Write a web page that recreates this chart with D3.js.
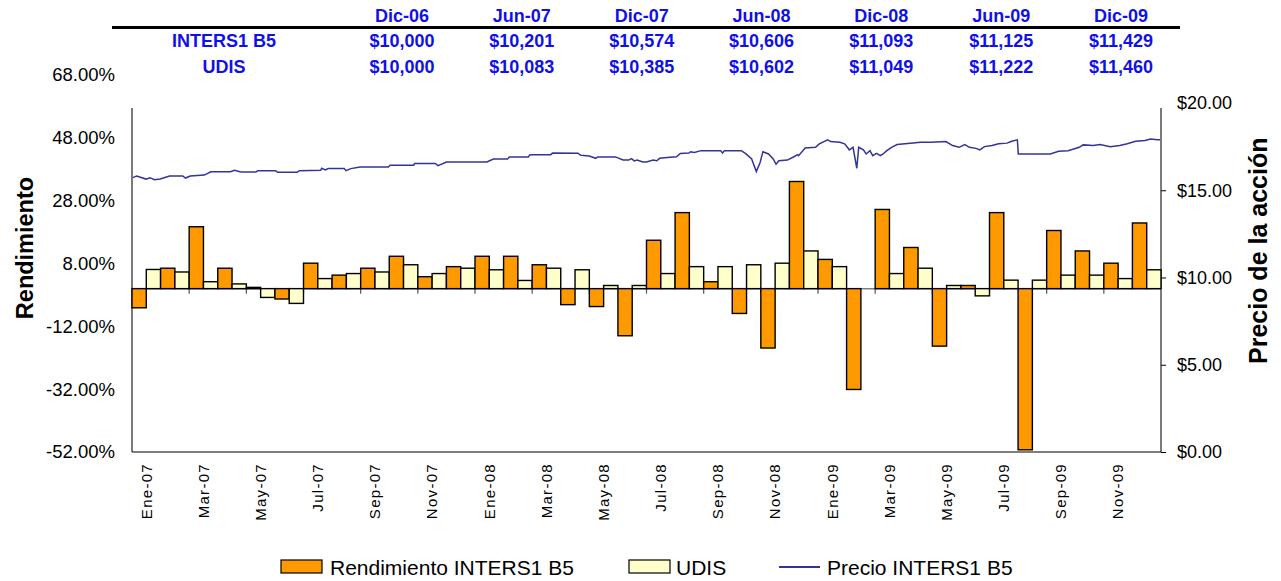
<!DOCTYPE html>
<html>
<head>
<meta charset="utf-8">
<script src="https://cdn.jsdelivr.net/npm/d3@7"></script>
<style>
    body { margin: 0; background: #fff; }
    svg { display: block; font-family: "Liberation Sans", Arial, sans-serif; }
</style>
</head>
<body>
<svg id="chart" width="1281" height="581"></svg>
<script>
// table on top
var tableDates = ["Dic-06", "Jun-07", "Dic-07", "Jun-08", "Dic-08", "Jun-09", "Dic-09"];
var tableInters = [10000, 10201, 10574, 10606, 11093, 11125, 11429];
var tableUdis = [10000, 10083, 10385, 10602, 11049, 11222, 11460];

// monthly returns (%)
var months = ["Ene-07","Feb-07","Mar-07","Abr-07","May-07","Jun-07","Jul-07","Ago-07","Sep-07","Oct-07","Nov-07","Dic-07",
    "Ene-08","Feb-08","Mar-08","Abr-08","May-08","Jun-08","Jul-08","Ago-08","Sep-08","Oct-08","Nov-08","Dic-08",
    "Ene-09","Feb-09","Mar-09","Abr-09","May-09","Jun-09","Jul-09","Ago-09","Sep-09","Oct-09","Nov-09","Dic-09"];
var rendInters = [-6.1, 6.5, 19.7, 6.5, 0.4, -3.3, 8.1, 4.3, 6.5, 10.3, 3.8, 7.0,
    10.3, 10.3, 7.6, -5.1, -5.7, -15.0, 15.4, 24.2, 2.2, -7.9, -18.9, 34.1,
    9.3, -32.1, 25.2, 13.1, -18.3, 1.0, 24.2, -51.3, 18.5, 12.0, 8.1, 20.9];
var rendUdis = [6.1, 5.3, 2.2, 1.5, -2.8, -4.7, 3.2, 4.8, 5.3, 7.6, 4.8, 6.5,
    6.0, 2.6, 6.5, 6.0, 1.0, 1.0, 4.8, 7.0, 7.0, 7.6, 8.1, 12.0,
    7.0, null, 4.8, 6.5, 1.0, -2.3, 2.7, 2.7, 4.3, 4.3, 3.2, 6.0];

var leftTicks = [-52, -32, -12, 8, 28, 48, 68];
var rightTicks = [0, 5, 10, 15, 20];

// share price
var precio = [
    ["2007-01-02", 15.72], ["2007-01-06", 15.82], ["2007-01-16", 15.64], ["2007-01-20", 15.72],
    ["2007-01-25", 15.60], ["2007-01-31", 15.64], ["2007-02-10", 15.82], ["2007-02-24", 15.82],
    ["2007-02-27", 15.70], ["2007-03-04", 15.82], ["2007-03-19", 15.87], ["2007-03-26", 16.06],
    ["2007-04-16", 16.06], ["2007-04-20", 16.14], ["2007-04-27", 16.05], ["2007-05-13", 16.05],
    ["2007-05-15", 16.12], ["2007-06-03", 16.12], ["2007-06-05", 16.03], ["2007-06-26", 16.03],
    ["2007-06-28", 16.12], ["2007-07-21", 16.14], ["2007-07-22", 16.26], ["2007-07-26", 16.16],
    ["2007-07-29", 16.24], ["2007-08-15", 16.24], ["2007-08-17", 16.12], ["2007-08-22", 16.24],
    ["2007-09-01", 16.33], ["2007-10-01", 16.33], ["2007-10-03", 16.43], ["2007-10-28", 16.43],
    ["2007-10-29", 16.54], ["2007-11-20", 16.54], ["2007-11-23", 16.41], ["2007-12-02", 16.62],
    ["2008-01-14", 16.62], ["2008-01-21", 16.79], ["2008-02-05", 16.79], ["2008-02-07", 16.91],
    ["2008-02-27", 16.91], ["2008-02-29", 17.04], ["2008-03-22", 17.04], ["2008-03-24", 17.13],
    ["2008-04-20", 17.12], ["2008-04-23", 17.00], ["2008-05-02", 16.96], ["2008-05-09", 16.83],
    ["2008-05-11", 16.91], ["2008-05-30", 16.91], ["2008-06-07", 16.73], ["2008-06-13", 16.73],
    ["2008-06-16", 16.81], ["2008-06-19", 16.68], ["2008-06-22", 16.73], ["2008-06-28", 16.62],
    ["2008-07-02", 16.62], ["2008-07-09", 16.73], ["2008-07-13", 16.69], ["2008-07-16", 16.83],
    ["2008-07-24", 16.88], ["2008-08-03", 16.92], ["2008-08-07", 17.11], ["2008-08-16", 17.13],
    ["2008-08-18", 17.21], ["2008-08-22", 17.17], ["2008-08-29", 17.27], ["2008-09-19", 17.27],
    ["2008-09-21", 17.13], ["2008-09-23", 17.27], ["2008-10-11", 17.27], ["2008-10-16", 17.08],
    ["2008-10-22", 16.79], ["2008-10-27", 16.07], ["2008-10-31", 16.59], ["2008-11-03", 17.21],
    ["2008-11-09", 17.08], ["2008-11-14", 16.79], ["2008-11-17", 16.49], ["2008-11-20", 16.69],
    ["2008-11-29", 16.73], ["2008-12-06", 16.92], ["2008-12-10", 17.04], ["2008-12-11", 16.98],
    ["2008-12-18", 17.42], ["2008-12-29", 17.46], ["2009-01-02", 17.66], ["2009-01-11", 17.89],
    ["2009-01-14", 17.79], ["2009-01-24", 17.75], ["2009-01-29", 17.66], ["2009-02-01", 17.46],
    ["2009-02-03", 17.31], ["2009-02-07", 17.46], ["2009-02-11", 16.26], ["2009-02-13", 17.46],
    ["2009-02-18", 17.31], ["2009-02-21", 17.08], ["2009-02-25", 17.27], ["2009-02-28", 16.98],
    ["2009-03-04", 17.11], ["2009-03-08", 16.98], ["2009-03-11", 17.08], ["2009-03-15", 17.27],
    ["2009-03-20", 17.46], ["2009-03-26", 17.62], ["2009-04-09", 17.70], ["2009-04-20", 17.75],
    ["2009-05-01", 17.75], ["2009-05-17", 17.79], ["2009-05-24", 17.56], ["2009-05-31", 17.46],
    ["2009-06-06", 17.62], ["2009-06-11", 17.46], ["2009-06-18", 17.40], ["2009-06-22", 17.31],
    ["2009-06-27", 17.50], ["2009-07-05", 17.56], ["2009-07-12", 17.66], ["2009-07-21", 17.70],
    ["2009-07-26", 17.81], ["2009-08-01", 17.89], ["2009-08-02", 17.08], ["2009-08-13", 17.08],
    ["2009-09-05", 17.08], ["2009-09-14", 17.23], ["2009-09-24", 17.27], ["2009-10-06", 17.46],
    ["2009-10-10", 17.60], ["2009-10-21", 17.56], ["2009-10-28", 17.62], ["2009-11-08", 17.50],
    ["2009-11-18", 17.56], ["2009-11-26", 17.66], ["2009-12-05", 17.81], ["2009-12-15", 17.85],
    ["2009-12-21", 17.94], ["2009-12-28", 17.89], ["2009-12-31", 17.89]
];

var ORANGE = "#ff9900", YELLOW = "#ffffcc", LINE = "#333399", BLUE = "#1010e8";

var svg = d3.select("#chart");
var plot = {left: 132, right: 1161, bottom: 452, axisTop: 108};

var x = d3.scaleBand().domain(months).range([plot.left, plot.right]).padding(0);
var xSub = d3.scaleBand().domain(["inters", "udis"]).range([0, x.bandwidth()]).padding(0);
var xTime = d3.scaleTime()
    .domain([new Date(2007, 0, 1), new Date(2010, 0, 1)])
    .range([plot.left, plot.right]);
var yL = d3.scaleLinear().domain([-52, 68]).range([plot.bottom, 75]);
var yR = d3.scaleLinear().domain([0, 20]).range([plot.bottom, 103]);

// ---- table ----
var fmtMoney = d3.format("$,");
var colX = d3.scalePoint().domain(tableDates).range([402, 1121]);
var table = svg.append("g").attr("font-weight", "bold").attr("font-size", 18)
    .attr("fill", BLUE).attr("text-anchor", "middle");

table.selectAll(".hdr").data(tableDates).enter().append("text")
    .attr("x", function(d) { return colX(d); })
    .attr("y", 22)
    .text(function(d) { return d; });

svg.append("line").attr("x1", 112).attr("x2", 1180).attr("y1", 27.5).attr("y2", 27.5)
    .attr("stroke", "#000").attr("stroke-width", 3);

var rows = [{label: "INTERS1 B5", vals: tableInters, y: 47}, {label: "UDIS", vals: tableUdis, y: 72.5}];
rows.forEach(function(r) {
    table.append("text").attr("x", 224).attr("y", r.y).text(r.label);
    table.selectAll(null).data(r.vals).enter().append("text")
        .attr("x", function(d, i) { return colX(tableDates[i]); })
        .attr("y", r.y)
        .text(function(d) { return fmtMoney(d); });
});

// ---- axes ----
var gL = svg.append("g").attr("transform", "translate(" + plot.left + ",0)")
    .call(d3.axisLeft(yL).tickValues(leftTicks).tickSize(0).tickPadding(17)
        .tickFormat(function(d) { return d.toFixed(2) + "%"; }));
gL.select(".domain").remove();
gL.selectAll("text").attr("font-size", 18.5).attr("font-family", null).attr("fill", "#000");

var gR = svg.append("g").attr("transform", "translate(" + plot.right + ",0)")
    .call(d3.axisRight(yR).tickValues(rightTicks).tickSize(5).tickPadding(11)
        .tickFormat(function(d) { return "$" + d.toFixed(2); }));
gR.select(".domain").remove();
gR.selectAll(".tick line").attr("stroke", "#000")
    .filter(function(d) { return yR(d) < plot.axisTop; }).remove();
gR.selectAll("text").attr("font-size", 18).attr("font-family", null).attr("fill", "#000");

// axis lines
svg.append("line").attr("x1", plot.left).attr("x2", plot.left)
    .attr("y1", plot.axisTop).attr("y2", plot.bottom).attr("stroke", "#222").attr("stroke-width", 1.2);
svg.append("line").attr("x1", plot.right).attr("x2", plot.right)
    .attr("y1", plot.axisTop).attr("y2", plot.bottom).attr("stroke", "#222").attr("stroke-width", 1.2);
svg.append("line").attr("x1", plot.left).attr("x2", plot.right)
    .attr("y1", plot.bottom).attr("y2", plot.bottom).attr("stroke", "#000").attr("stroke-width", 1.2);

// category axis at zero
var y0 = yL(0);
svg.append("line").attr("x1", plot.left).attr("x2", plot.right)
    .attr("y1", y0).attr("y2", y0).attr("stroke", "#808080").attr("stroke-width", 1.5);
svg.selectAll(".cat-tick").data(months.filter(function(d, i) { return i > 0 && i % 2 === 0; }))
    .enter().append("line")
    .attr("class", "cat-tick")
    .attr("x1", function(d) { return x(d); }).attr("x2", function(d) { return x(d); })
    .attr("y1", y0).attr("y2", y0 + 5)
    .attr("stroke", "#555").attr("stroke-width", 1.2);

// month labels
var gX = svg.append("g").attr("transform", "translate(0," + plot.bottom + ")")
    .call(d3.axisBottom(x).tickValues(months.filter(function(d, i) { return i % 2 === 0; })).tickSize(0));
gX.select(".domain").remove();
gX.selectAll("text")
    .attr("font-size", 15).attr("font-family", null).attr("fill", "#000")
    .attr("letter-spacing", 1.3)
    .attr("transform", "rotate(-90)")
    .attr("text-anchor", "end")
    .attr("x", -11).attr("y", 0).attr("dy", "0.35em");

// ---- bars ----
var bars = [];
months.forEach(function(m, i) {
    bars.push({m: m, key: "inters", v: rendInters[i], color: ORANGE});
    if (rendUdis[i] != null) bars.push({m: m, key: "udis", v: rendUdis[i], color: YELLOW});
});

svg.append("g").selectAll("rect").data(bars).enter().append("rect")
    .attr("x", function(d) { return x(d.m) + xSub(d.key); })
    .attr("width", xSub.bandwidth())
    .attr("y", function(d) { return Math.min(yL(d.v), y0); })
    .attr("height", function(d) { return Math.abs(yL(d.v) - y0); })
    .attr("fill", function(d) { return d.color; })
    .attr("stroke", "#000").attr("stroke-width", 1.4);

// ---- price line ----
var parseDate = d3.timeParse("%Y-%m-%d");
var line = d3.line()
    .x(function(d) { return xTime(parseDate(d[0])); })
    .y(function(d) { return yR(d[1]); });
svg.append("path").datum(precio).attr("d", line)
    .attr("fill", "none").attr("stroke", LINE).attr("stroke-width", 1.5);

// ---- axis titles ----
svg.append("text").attr("transform", "translate(33,248) rotate(-90)")
    .attr("text-anchor", "middle").attr("font-weight", "bold").attr("font-size", 23.5)
    .text("Rendimiento");

// right title is cut at the top, like the original
svg.append("clipPath").attr("id", "titleClip").append("rect")
    .attr("x", 1200).attr("y", 121).attr("width", 81).attr("height", 400);
svg.append("g").attr("clip-path", "url(#titleClip)")
    .append("text")
    .attr("transform", "translate(1267,364) rotate(-90)")
    .attr("text-anchor", "start").attr("font-weight", "bold").attr("font-size", 25)
    .text("Precio de la acción");

// ---- legend ----
var legend = svg.append("g").attr("font-size", 21);
var legItems = [
    {label: "Rendimiento INTERS1 B5", type: "bar", color: ORANGE, x: 281, tx: 330},
    {label: "UDIS", type: "bar", color: YELLOW, x: 629, tx: 676},
    {label: "Precio INTERS1 B5", type: "line", color: LINE, x: 779, tx: 827}
];
legItems.forEach(function(it) {
    if (it.type === "bar") {
        legend.append("rect").attr("x", it.x).attr("y", 560).attr("width", 41).attr("height", 13)
            .attr("fill", it.color).attr("stroke", "#000").attr("stroke-width", 1.2);
    } else {
        legend.append("line").attr("x1", it.x).attr("x2", it.x + 41).attr("y1", 567).attr("y2", 567)
            .attr("stroke", it.color).attr("stroke-width", 2);
    }
    legend.append("text").attr("x", it.tx).attr("y", 575).text(it.label);
});
</script>
</body>
</html>
